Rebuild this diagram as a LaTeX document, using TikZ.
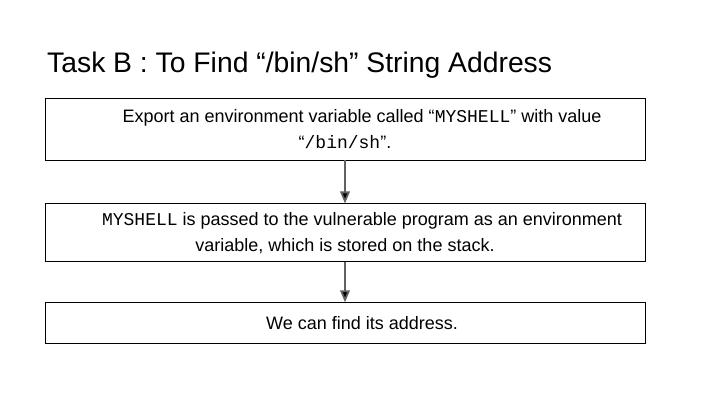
\documentclass[tikz,border=0pt]{standalone}
\usepackage{fontspec}
\setmainfont{Liberation Sans}
\setmonofont{Liberation Mono}
\usetikzlibrary{arrows,positioning}

\newcommand{\lead}{\hspace*{34pt}}

\begin{document}
\begin{tikzpicture}[->,>=triangle 45,x=1pt,y=1pt,
    task box/.style={rectangle,draw,line width=0.8pt,minimum width=600pt,inner sep=0pt,
      align=center,font=\fontsize{18}{26}\selectfont},
    flow/.style={draw=black!62,line width=1.8pt}]

\useasboundingbox (0,0) rectangle (720,-405);

\node[anchor=base west,inner sep=0pt,font=\fontsize{28.3}{34}\selectfont] (title) at (47,-72)
  {Task B : To Find “/bin/sh” String Address};

\node[task box, minimum height=62pt] (1) at (345,-129)
  {\lead Export an environment variable called “\texttt{MYSHELL}” with value \\ “\texttt{/bin/sh}”.};
\node[task box, minimum height=58pt, below=43pt of 1] (2)
  {\lead\texttt{MYSHELL} is passed to the vulnerable program as an environment \\ variable, which is stored on the stack.};
\node[task box, minimum height=41pt, below=40pt of 2] (3) {\lead We can find its address.};

\path[flow]
(1) edge (2)
(2) edge (3)
;

\end{tikzpicture}
\end{document}
